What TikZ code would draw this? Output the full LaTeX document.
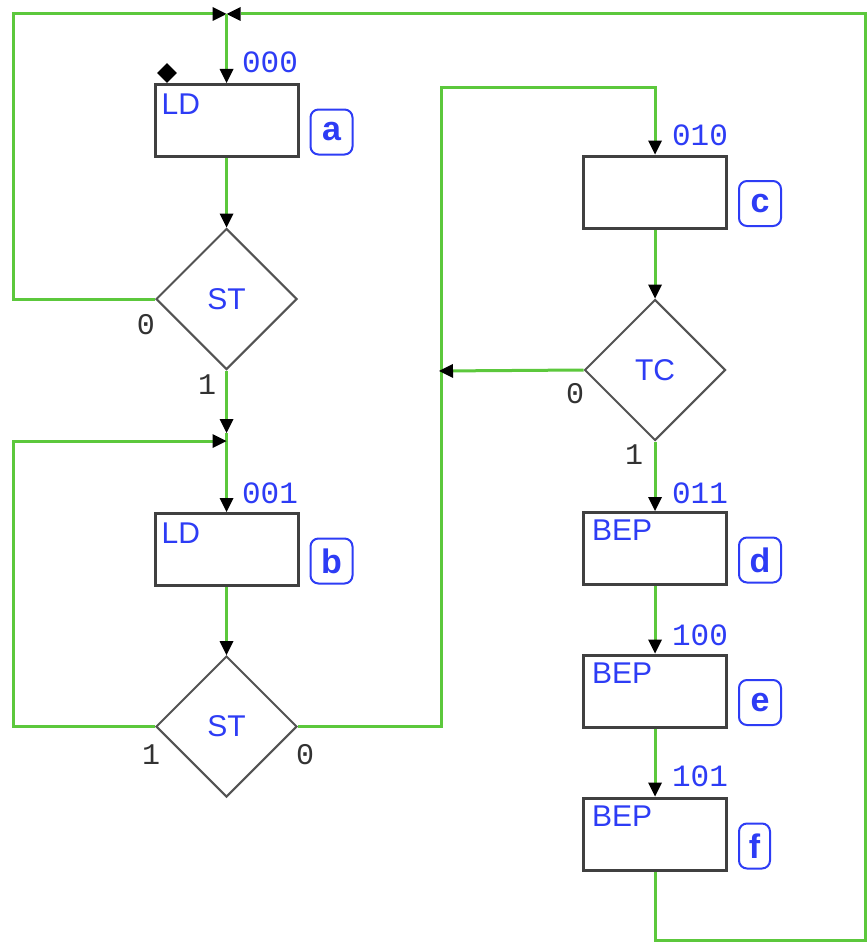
\documentclass[tikz,border=0pt]{standalone}
\usepackage{fontspec}
\setmainfont{Liberation Sans}
\newfontfamily\monofont{Liberation Mono}
\usetikzlibrary{shapes.geometric,arrows.meta,calc}
\definecolor{wgreen}{RGB}{92,200,60}
\definecolor{tblue}{RGB}{45,60,245}
\definecolor{bgray}{RGB}{64,64,64}
\definecolor{dgray}{RGB}{50,50,50}
\tikzset{
  state/.style={draw=bgray, line width=3pt, fill=white, minimum width=143pt, minimum height=72pt, inner sep=0pt},
  decision/.style={diamond, aspect=1, draw=bgray!90, line width=2pt, fill=white, minimum width=141pt, minimum height=141pt, inner sep=0pt, font=\fontsize{30}{32}\selectfont, text=tblue},
  inlabel/.style={font=\fontsize{30}{32}\selectfont, text=tblue, inner sep=0pt, anchor=north west},
  code/.style={font=\monofont\fontsize{31}{33}\selectfont, text=tblue, inner sep=0pt},
  bit/.style={font=\monofont\fontsize{30}{32}\selectfont, text=dgray, inner sep=0pt},
  tag/.style={draw=tblue, line width=2pt, rounded corners=8pt, font=\bfseries\fontsize{34}{36}\selectfont, text=tblue, minimum width=42pt, minimum height=45pt, inner sep=0pt, anchor=west},
  wire/.style={draw=wgreen, line width=3pt},
  arr/.style={wire, -{Triangle[length=14pt,width=14pt,color=black,line width=0pt]}},
  marker/.style={diamond, aspect=1, fill=black, minimum width=20pt, minimum height=20pt, inner sep=0pt}
}
\begin{document}
\begin{tikzpicture}[x=1pt,y=-1pt]
\useasboundingbox[fill=white] (0,0) rectangle (867,942);
% states
\node[state] (a) at (226.5,120.5) {};
\node[state] (b) at (226.5,549.5) {};
\node[state] (c) at (655,192) {};
\node[state] (d) at (655,548.5) {};
\node[state] (e) at (655,691) {};
\node[state] (f) at (655,834) {};
% decisions
\node[decision] (st1) at (226.5,299) {ST};
\node[decision] (st2) at (226.5,726.5) {ST};
\node[decision] (tc) at (655,370) {TC};
% junction coordinates
\coordinate (j0) at (226.5,14);
\coordinate (j1a) at (226.5,433);
\coordinate (j1b) at (226.5,441);
\coordinate (j2) at (439,371);
% wires
\draw[arr] (st1.west) -- (13,299) -- (13,14) -- (j0);
\draw[arr] (f.south) -- (655,940) -- (865.5,940) -- (865.5,14) -- (j0);
\draw[arr] (j0) -- (a.north);
\draw[arr] (a.south) -- (st1.north);
\draw[arr] (st1.south) -- (j1a);
\draw[arr] (j1a) -- (b.north);
\draw[arr] (st2.west) -- (13,726.5) -- (13,441) -- (j1b);
\draw[arr] (b.south) -- (st2.north);
\draw[arr] (st2.east) -- (441,726.5) -- (441,87) -- (655,87) -- (c.north);
\draw[arr] (c.south) -- (tc.north);
\draw[arr] (tc.west) -- (j2);
\draw[arr] (tc.south) -- (d.north);
\draw[arr] (d.south) -- (e.north);
\draw[arr] (e.south) -- (f.north);
% redraw boxes over wires
\node[state] at (a) {};
\node[state] at (b) {};
\node[state] at (c) {};
\node[state] at (d) {};
\node[state] at (e) {};
\node[state] at (f) {};
% initial marker
\node[marker] (init) at (167,73) {};
% in-box labels
\node[inlabel] (la) at ($(a.north west)+(8,11)$) {LD};
\node[inlabel] (lb) at ($(b.north west)+(8,11)$) {LD};
\node[inlabel] (ld) at ($(d.north west)+(10,9)$) {BEP};
\node[inlabel] (le) at ($(e.north west)+(10,9)$) {BEP};
\node[inlabel] (lf) at ($(f.north west)+(10,9)$) {BEP};
% state codes
\node[code] (ca) at (270,62) {000};
\node[code] (cb) at (270,493) {001};
\node[code] (cc) at (700,135) {010};
\node[code] (cd) at (700,493) {011};
\node[code] (ce) at (700,635) {100};
\node[code] (cf) at (700,776) {101};
% tags
\node[tag] (ta) at ($(a.east)+(10,11.5)$) {a};
\node[tag] (tb) at ($(b.east)+(10,11.5)$) {b};
\node[tag] (tcc) at ($(c.east)+(10,11.5)$) {c};
\node[tag] (td) at ($(d.east)+(10,11.5)$) {d};
\node[tag] (te) at ($(e.east)+(10,11.5)$) {e};
\node[tag, minimum width=31pt] (tf) at ($(f.east)+(10,12)$) {f};
% branch bits
\node[bit] (s1z) at (146,325) {0};
\node[bit] (s1o) at (207,385) {1};
\node[bit] (s2o) at (151,755) {1};
\node[bit] (s2z) at (305,755) {0};
\node[bit] (tz) at (575,394) {0};
\node[bit] (to) at (634,455) {1};
\end{tikzpicture}
\end{document}
